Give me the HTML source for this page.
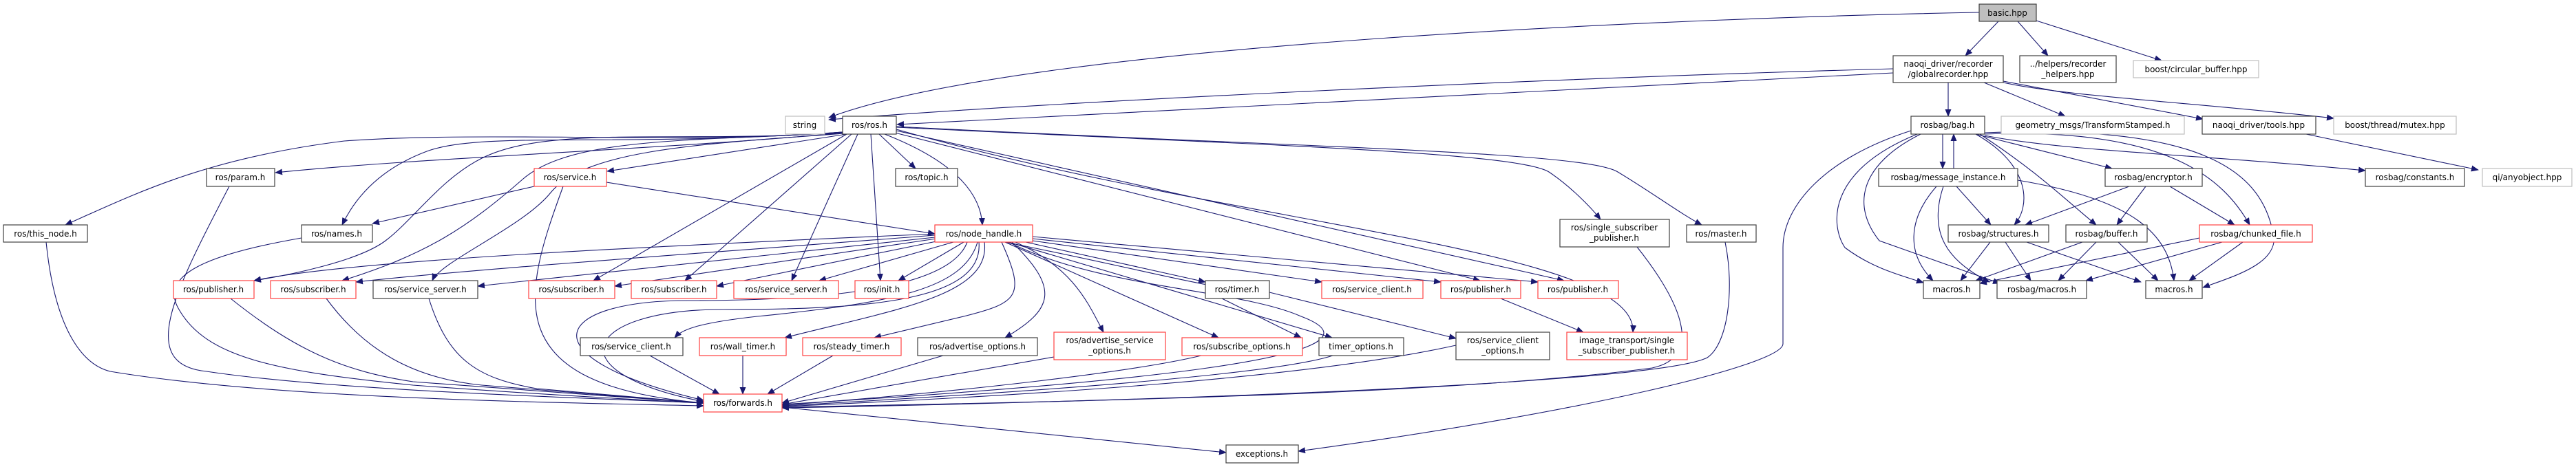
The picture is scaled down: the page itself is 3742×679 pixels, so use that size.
<!DOCTYPE html>
<html><head><meta charset="utf-8"><style>
html,body{margin:0;padding:0;background:#fff;}
svg{display:block;}
text{font-family:"DejaVu Sans","Liberation Sans",sans-serif;font-size:12px;fill:#000;}
.n rect{fill:#fff;stroke:#404040;stroke-width:1.2;}
.r rect{fill:#fff;stroke:#ff4040;stroke-width:1.2;}
.g rect{fill:#fff;stroke:#bfbfbf;stroke-width:1.2;}
.e path{fill:none;stroke:#191970;stroke-width:1.1;marker-end:url(#a);}
</style></head><body>
<svg width="3742" height="679" viewBox="0 0 3742 679" xmlns="http://www.w3.org/2000/svg">
<defs><marker id="a" markerWidth="11" markerHeight="9" refX="10" refY="4.5" orient="auto" markerUnits="userSpaceOnUse"><path d="M0,0 L11,4.5 L0,9 z" fill="#191970"/></marker></defs>
<g class="e">
<path d="M2875,18 C2500,25 1500,60 1204,171"/>
<path d="M2750,100 C2200,115 1500,150 1204,174"/>
<path d="M2750,106 L1303,181"/>
<path d="M1224,193 C1000,215 600,230 400,251"/>
<path d="M1230,195 L882,249"/>
<path d="M1224,192 C1000,210 700,190 500,205 C300,230 200,280 95,327"/>
<path d="M1224,192 C900,215 700,190 620,220 C540,250 510,300 497,327"/>
<path d="M1224,192 C1000,210 800,180 700,230 C640,260 600,320 560,350 C520,380 420,400 369,408"/>
<path d="M1224,193 C1000,205 830,200 760,260 C680,330 620,370 497,408"/>
<path d="M1226,194 C1000,210 850,220 800,280 C760,330 640,380 628,408"/>
<path d="M1230,195 L862,408"/>
<path d="M1237,195 L995,408"/>
<path d="M1246,195 L1150,408"/>
<path d="M1265,195 L1279,408"/>
<path d="M1277,195 L1330,245"/>
<path d="M1285,195 C1400,240 1425,290 1427,327"/>
<path d="M1300,193 L2150,408"/>
<path d="M1302,190 L2272,408"/>
<path d="M1302,188 C1800,330 2380,360 2372,483"/>
<path d="M1302,185 C1800,210 2200,220 2250,250 C2280,270 2310,300 2325,319"/>
<path d="M1302,184 C1900,215 2300,220 2350,250 C2400,280 2440,310 2472,327"/>
<path d="M776,271 L541,325"/>
<path d="M881,265 L1358,340"/>
<path d="M818,271 C760,430 720,560 1022,586"/>
<path d="M333,271 C250,430 200,530 300,540 C500,570 900,580 1022,586"/>
<path d="M67,352 C80,480 120,530 160,540 C400,580 800,585 1022,590"/>
<path d="M438,346 C300,370 230,400 260,450 C300,520 400,540 600,560 C800,575 1000,585 1022,586"/>
<path d="M335,434 C430,510 500,540 600,555 L1022,586"/>
<path d="M474,434 C530,510 600,550 700,560 L1022,586"/>
<path d="M623,434 C650,520 690,550 780,565 L1022,586"/>
<path d="M944,517 L1045,573"/>
<path d="M1079,517 L1079,573"/>
<path d="M1210,517 L1115,573"/>
<path d="M1370,517 L1136,586"/>
<path d="M1531,519 L1136,588"/>
<path d="M1745,517 C1650,540 1400,570 1136,589"/>
<path d="M1936,517 C1850,545 1500,570 1136,590"/>
<path d="M2115,502 C1900,550 1500,575 1136,591"/>
<path d="M2378,359 C2450,450 2470,520 2400,535 C2100,575 1500,585 1136,592"/>
<path d="M2506,352 C2520,420 2510,500 2480,520 C2400,560 1600,585 1136,593"/>
<path d="M1136,592 L1781,658"/>
<path d="M2776,190 C2650,230 2590,300 2590,360 L2590,500 C2590,530 2300,600 1886,656"/>
<path d="M1358,340 C900,360 500,380 369,408"/>
<path d="M1358,342 C1000,370 700,390 517,410"/>
<path d="M1358,345 L694,416"/>
<path d="M1360,347 L893,416"/>
<path d="M1365,350 L1041,416"/>
<path d="M1385,352 L1190,408"/>
<path d="M1400,352 L1305,408"/>
<path d="M1420,352 C1400,420 1300,440 1100,460 C1010,470 990,480 980,491"/>
<path d="M1430,352 C1440,430 1300,450 1140,491"/>
<path d="M1455,352 C1490,430 1480,440 1400,460 L1270,491"/>
<path d="M1470,352 C1540,420 1530,450 1460,491"/>
<path d="M1475,352 C1560,390 1580,440 1603,483"/>
<path d="M1460,352 L1770,491"/>
<path d="M1465,352 L1935,491"/>
<path d="M1490,352 L1751,410"/>
<path d="M1500,350 L1920,410"/>
<path d="M1500,347 L2093,410"/>
<path d="M1500,344 L2234,410"/>
<path d="M1460,352 C1700,400 1750,420 1844,425 L2115,492"/>
<path d="M1405,352 C1380,420 1200,437 1000,437 C800,437 760,520 1022,582"/>
<path d="M1422,352 C1430,440 1250,450 1050,450 C850,450 800,540 1022,584"/>
<path d="M1465,352 C1600,420 1800,420 1890,460 C2050,520 1600,560 1136,588"/>
<path d="M1775,434 L1890,491"/>
<path d="M2180,434 L2300,483"/>
<path d="M2903,31 L2855,81"/>
<path d="M2931,31 L2975,81"/>
<path d="M2958,30 L3140,88"/>
<path d="M2830,120 L2830,169"/>
<path d="M2882,120 L3000,169"/>
<path d="M2910,118 L3200,173"/>
<path d="M2910,120 C3000,140 3200,150 3390,172"/>
<path d="M2822,195 L2822,245"/>
<path d="M2838,245 L2838,195"/>
<path d="M2870,195 L3068,245"/>
<path d="M2883,197 C3000,220 3200,225 3436,248"/>
<path d="M2870,195 C2950,240 2950,300 2926,327"/>
<path d="M2876,195 C2960,250 3000,290 3045,327"/>
<path d="M2883,195 C3150,185 3230,260 3268,327"/>
<path d="M2785,195 C2650,250 2660,330 2680,360 C2720,390 2760,400 2794,411"/>
<path d="M2790,195 C2700,240 2690,300 2730,350 L2905,412"/>
<path d="M2883,193 C3200,180 3280,250 3300,330 C3320,380 3250,400 3200,418"/>
<path d="M2842,271 L2892,327"/>
<path d="M2813,271 C2770,320 2770,370 2808,408"/>
<path d="M2823,271 C2800,340 2830,380 2890,410"/>
<path d="M2931,262 C3100,290 3150,340 3158,408"/>
<path d="M3093,271 L2942,327"/>
<path d="M3117,271 L3075,327"/>
<path d="M3152,271 L3246,327"/>
<path d="M2891,352 L2848,408"/>
<path d="M2913,352 L2950,408"/>
<path d="M2944,352 L3110,410"/>
<path d="M3025,352 L2870,408"/>
<path d="M3045,352 L2990,408"/>
<path d="M3077,352 L3135,408"/>
<path d="M3195,346 L2876,412"/>
<path d="M3228,352 L3030,408"/>
<path d="M3258,352 L3180,408"/>
<path d="M3350,195 L3600,247"/>
</g>
<g text-anchor="middle">
<g class="n"><rect x="2875" y="6" width="83" height="25" style="fill:#bfbfbf"/><text x="2916" y="23">basic.hpp</text></g>
<g class="n"><rect x="2750" y="81" width="160" height="39"/><text x="2830" y="97">naoqi_driver/recorder</text><text x="2830" y="112">/globalrecorder.hpp</text></g>
<g class="n"><rect x="2934" y="81" width="140" height="39"/><text x="3004" y="97">../helpers/recorder</text><text x="3004" y="112">_helpers.hpp</text></g>
<g class="g"><rect x="3099" y="88" width="182" height="25"/><text x="3190" y="105">boost/circular_buffer.hpp</text></g>
<g class="g"><rect x="1141" y="169" width="57" height="26"/><text x="1169" y="186">string</text></g>
<g class="n"><rect x="1224" y="169" width="78" height="26"/><text x="1263" y="186">ros/ros.h</text></g>
<g class="n"><rect x="2776" y="169" width="107" height="26"/><text x="2829" y="186">rosbag/bag.h</text></g>
<g class="g"><rect x="2907" y="169" width="266" height="26"/><text x="3040" y="186">geometry_msgs/TransformStamped.h</text></g>
<g class="n"><rect x="3199" y="169" width="165" height="26"/><text x="3281" y="186">naoqi_driver/tools.hpp</text></g>
<g class="g"><rect x="3390" y="169" width="178" height="26"/><text x="3479" y="186">boost/thread/mutex.hpp</text></g>
<g class="n"><rect x="300" y="245" width="99" height="26"/><text x="349" y="262">ros/param.h</text></g>
<g class="r"><rect x="776" y="245" width="105" height="26"/><text x="828" y="262">ros/service.h</text></g>
<g class="n"><rect x="1301" y="245" width="90" height="26"/><text x="1346" y="262">ros/topic.h</text></g>
<g class="n"><rect x="2729" y="245" width="202" height="26"/><text x="2830" y="262">rosbag/message_instance.h</text></g>
<g class="n"><rect x="3058" y="245" width="141" height="26"/><text x="3128" y="262">rosbag/encryptor.h</text></g>
<g class="n"><rect x="3436" y="245" width="144" height="26"/><text x="3508" y="262">rosbag/constants.h</text></g>
<g class="g"><rect x="3606" y="245" width="130" height="26"/><text x="3671" y="262">qi/anyobject.hpp</text></g>
<g class="n"><rect x="5" y="327" width="122" height="25"/><text x="66" y="344">ros/this_node.h</text></g>
<g class="n"><rect x="438" y="327" width="103" height="25"/><text x="489" y="344">ros/names.h</text></g>
<g class="r"><rect x="1358" y="327" width="142" height="25"/><text x="1429" y="344">ros/node_handle.h</text></g>
<g class="n"><rect x="2266" y="319" width="159" height="40"/><text x="2345" y="335">ros/single_subscriber</text><text x="2345" y="350">_publisher.h</text></g>
<g class="n"><rect x="2450" y="327" width="101" height="25"/><text x="2500" y="344">ros/master.h</text></g>
<g class="n"><rect x="2830" y="327" width="146" height="25"/><text x="2903" y="344">rosbag/structures.h</text></g>
<g class="n"><rect x="3001" y="327" width="118" height="25"/><text x="3060" y="344">rosbag/buffer.h</text></g>
<g class="r"><rect x="3195" y="327" width="164" height="25"/><text x="3277" y="344">rosbag/chunked_file.h</text></g>
<g class="r"><rect x="252" y="408" width="117" height="26"/><text x="310" y="425">ros/publisher.h</text></g>
<g class="r"><rect x="393" y="408" width="124" height="26"/><text x="455" y="425">ros/subscriber.h</text></g>
<g class="n"><rect x="542" y="408" width="152" height="26"/><text x="618" y="425">ros/service_server.h</text></g>
<g class="r"><rect x="768" y="408" width="125" height="26"/><text x="830" y="425">ros/subscriber.h</text></g>
<g class="r"><rect x="917" y="408" width="124" height="26"/><text x="979" y="425">ros/subscriber.h</text></g>
<g class="r"><rect x="1066" y="408" width="152" height="26"/><text x="1142" y="425">ros/service_server.h</text></g>
<g class="r"><rect x="1242" y="408" width="78" height="26"/><text x="1281" y="425">ros/init.h</text></g>
<g class="n"><rect x="1751" y="408" width="93" height="26"/><text x="1797" y="425">ros/timer.h</text></g>
<g class="r"><rect x="1920" y="408" width="147" height="26"/><text x="1993" y="425">ros/service_client.h</text></g>
<g class="r"><rect x="2093" y="408" width="116" height="26"/><text x="2151" y="425">ros/publisher.h</text></g>
<g class="r"><rect x="2234" y="408" width="117" height="26"/><text x="2292" y="425">ros/publisher.h</text></g>
<g class="n"><rect x="2794" y="408" width="82" height="26"/><text x="2835" y="425">macros.h</text></g>
<g class="n"><rect x="2901" y="408" width="130" height="26"/><text x="2966" y="425">rosbag/macros.h</text></g>
<g class="n"><rect x="3117" y="408" width="82" height="26"/><text x="3158" y="425">macros.h</text></g>
<g class="n"><rect x="843" y="491" width="149" height="26"/><text x="917" y="508">ros/service_client.h</text></g>
<g class="r"><rect x="1016" y="491" width="126" height="26"/><text x="1079" y="508">ros/wall_timer.h</text></g>
<g class="r"><rect x="1166" y="491" width="143" height="26"/><text x="1237" y="508">ros/steady_timer.h</text></g>
<g class="n"><rect x="1333" y="491" width="174" height="26"/><text x="1420" y="508">ros/advertise_options.h</text></g>
<g class="r"><rect x="1531" y="483" width="162" height="40"/><text x="1612" y="499">ros/advertise_service</text><text x="1612" y="514">_options.h</text></g>
<g class="r"><rect x="1717" y="491" width="175" height="26"/><text x="1804" y="508">ros/subscribe_options.h</text></g>
<g class="n"><rect x="1916" y="491" width="123" height="26"/><text x="1977" y="508">timer_options.h</text></g>
<g class="n"><rect x="2115" y="483" width="136" height="40"/><text x="2183" y="499">ros/service_client</text><text x="2183" y="514">_options.h</text></g>
<g class="r"><rect x="2276" y="483" width="175" height="40"/><text x="2363" y="499">image_transport/single</text><text x="2363" y="514">_subscriber_publisher.h</text></g>
<g class="r"><rect x="1022" y="573" width="114" height="26"/><text x="1079" y="590">ros/forwards.h</text></g>
<g class="n"><rect x="1781" y="647" width="105" height="26"/><text x="1833" y="664">exceptions.h</text></g>
</g>
</svg>
</body></html>
